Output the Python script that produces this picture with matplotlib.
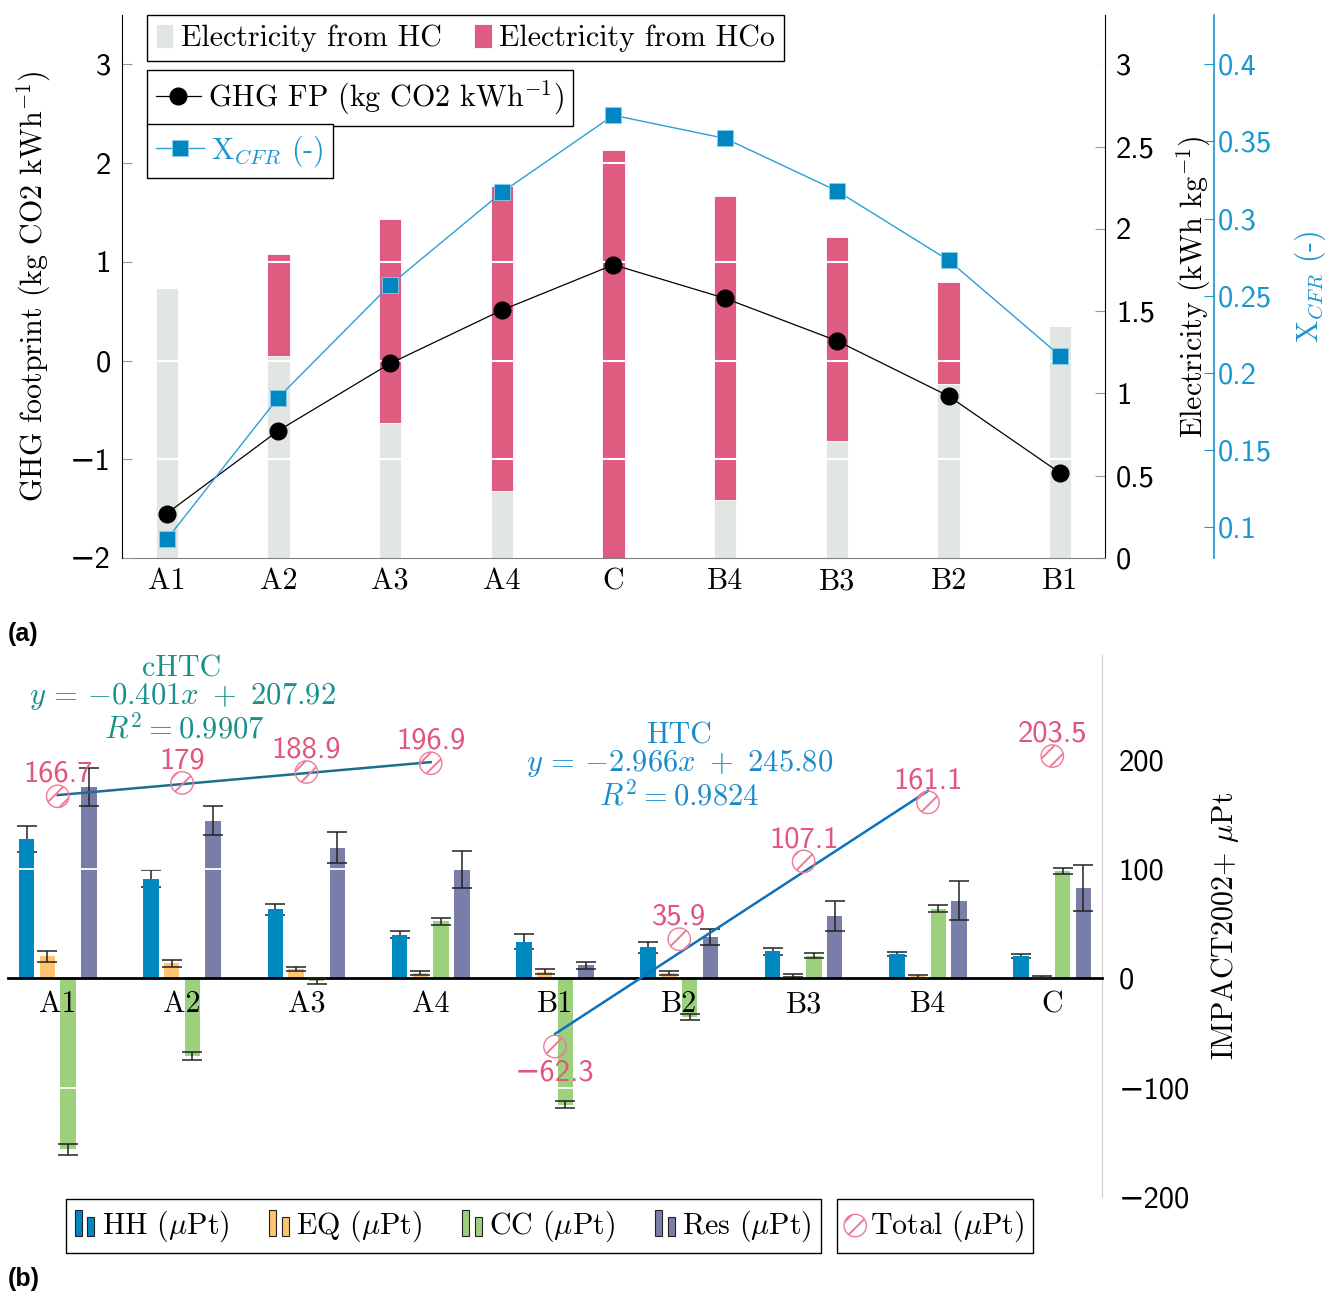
import numpy as np
import matplotlib
matplotlib.use("Agg")
import matplotlib.pyplot as plt
from matplotlib.patches import Rectangle
from matplotlib.legend_handler import HandlerBase
from matplotlib.container import BarContainer
from matplotlib.ticker import FuncFormatter

plt.rcParams['mathtext.fontset'] = 'cm'
plt.rcParams['font.family'] = ['cmr10', 'DejaVu Serif']
plt.rcParams['font.size'] = 21.6
plt.rcParams['hatch.color'] = 'red'
plt.rcParams['hatch.linewidth'] = 1.4

SANS = ['cmss10', 'DejaVu Sans']
NUM_SIZE = 22

# ---- panel (a) data
cats_a = ['A1', 'A2', 'A3', 'A4', 'C', 'B4', 'B3', 'B2', 'B1']
elec_hc = [1.64, 1.23, 0.82, 0.41, 0.0, 0.35, 0.71, 1.06, 1.41]
elec_hco = [0.0, 0.62, 1.24, 1.85, 2.48, 1.85, 1.24, 0.62, 0.0]
ghg = [-1.55, -0.71, -0.03, 0.51, 0.97, 0.63, 0.20, -0.36, -1.14]
xcfr = [0.092, 0.184, 0.257, 0.317, 0.367, 0.352, 0.318, 0.273, 0.211]

# ---- panel (b) data
cats_b = ['A1', 'A2', 'A3', 'A4', 'B1', 'B2', 'B3', 'B4', 'C']
hh = [127.4, 91.4, 63.1, 40.0, 33.6, 28.5, 24.9, 22.3, 20.4]
hh_err = [12, 8, 5, 3, 7, 5, 3, 2, 2]
eq = [20.1, 13.7, 8.9, 5.0, 6.3, 5.0, 2.7, 1.8, 1.5]
eq_err = [5, 3.2, 2, 1.5, 2.2, 1.4, 1, 1, 0.8]
cc = [-156.5, -70.8, -2.5, 52.2, -115.6, -34.9, 20.8, 64.0, 98.2]
cc_err = [5.3, 3.8, 3, 3.2, 3, 2.7, 2.2, 3, 3]
res = [175.2, 144.4, 119.7, 99.4, 12.1, 37.8, 57.0, 71.2, 82.4]
res_err = [17.4, 13, 14.5, 17, 3.2, 7.4, 13.5, 17.8, 21]
total = [166.7, 179, 188.9, 196.9, -62.3, 35.9, 107.1, 161.1, 203.5]


def num(v, pos=None):
    return ('%g' % v).replace('-', '\u2212')


class BarPair(HandlerBase):
    def create_artists(self, legend, orig, xd, yd, w, h, fontsize, trans):
        c = orig.patches[0].get_facecolor()
        bw = w * 0.36
        r1 = Rectangle((-xd, -yd), bw, h, fc=c, ec='#222222', lw=0.8, transform=trans)
        r2 = Rectangle((-xd + w - bw, -yd), bw, h * 0.75, fc=c, ec='#222222', lw=0.8, transform=trans)
        return [r1, r2]


fig = plt.figure(figsize=(13.26, 12.94), dpi=100)

# =============== (a)
ax = fig.add_axes([0.0920, 0.5688, 0.7413, 0.4196])
ax2 = ax.twinx()
ax3 = ax.twinx()
x = np.arange(len(cats_a))

b_hc = ax.bar(x, elec_hc, 0.2, color='#E1E6E3', edgecolor='white', lw=0.6)
b_hco = ax.bar(x, elec_hco, 0.2, bottom=elec_hc, color='#DD5C80', edgecolor='white', lw=0.6)
ax.set_xlim(-0.4, 8.4)
ax.set_ylim(0, 3.3)
ax.yaxis.tick_right()
ax.yaxis.set_label_position('right')
ax.set_yticks(np.arange(0, 3.01, 0.5))
ax.yaxis.set_major_formatter(FuncFormatter(num))
ax.set_xticks(x, cats_a)
ax.tick_params(axis='x', length=0, pad=7)
ax.tick_params(axis='y', direction='in', length=7, color='#999999', pad=8,
               labelfontfamily=SANS, labelsize=NUM_SIZE)
ax.set_ylabel(r'Electricity (kWh kg$^{-1}$)')
ax.yaxis.set_label_coords(1.071, 0.5)
for s in ['top', 'left']:
    ax.spines[s].set_visible(False)
ax.spines['bottom'].set_color('#808080')
ax.spines['right'].set_color('black')

ax2.set_ylim(-2, 3.5)
ax2.yaxis.tick_left()
ax2.yaxis.set_label_position('left')
ax2.set_yticks(range(-2, 4))
ax2.yaxis.set_major_formatter(FuncFormatter(num))
ax2.tick_params(axis='y', direction='in', length=7, color='#999999', pad=8,
                labelfontfamily=SANS, labelsize=NUM_SIZE)
for v in [-1, 0, 1, 2, 3]:
    ax2.axhline(v, color='white', lw=1.5, zorder=1.5)
l_ghg, = ax2.plot(x, ghg, 'o-', color='black', ms=12, lw=0.9, zorder=3)
ax2.set_ylabel(r'GHG footprint (kg CO2 kWh$^{-1}$)', labelpad=12)
for s in ['top', 'right', 'bottom']:
    ax2.spines[s].set_visible(False)

blue = '#1A96D0'
ax3.spines['right'].set_position(('axes', 1.111))
ax3.spines['right'].set_color(blue)
ax3.spines['right'].set_linewidth(1.2)
for s in ['top', 'left', 'bottom']:
    ax3.spines[s].set_visible(False)
ax3.set_ylim(0.08, 0.432)
ax3.set_yticks(np.arange(0.1, 0.401, 0.05))
ax3.yaxis.set_major_formatter(FuncFormatter(num))
ax3.tick_params(axis='y', direction='in', length=7, color=blue, labelcolor=blue, pad=3,
                labelfontfamily=SANS, labelsize=NUM_SIZE)
l_x, = ax3.plot(x, xcfr, 's-', color='#2A9FD6', mfc='#0087C1', mec='#8CCBEA', mew=0.6,
                ms=12, lw=1, zorder=3)
ax3.set_ylabel(r'X$_{CFR}$ (-)', color=blue)
ax3.yaxis.set_label_coords(1.191, 0.5)

lkw = dict(loc='upper left', borderaxespad=0, fancybox=False, edgecolor='black',
           framealpha=1, borderpad=0.3, handletextpad=0.25)
leg1 = ax3.legend([b_hc, b_hco], ['Electricity from HC', 'Electricity from HCo'],
                  bbox_to_anchor=(0.0254, 1.0), ncol=2, handlelength=0.57,
                  handleheight=0.85, columnspacing=1.1, **lkw)
ax3.add_artist(leg1)
leg2 = ax3.legend([l_ghg], [r'GHG FP (kg CO2 kWh$^{-1}$)'], bbox_to_anchor=(0.0254, 0.899),
                  handlelength=1.5, **lkw)
ax3.add_artist(leg2)
ax3.legend([l_x], [r'X$_{CFR}$ (-)'], bbox_to_anchor=(0.0254, 0.799),
           handlelength=1.6, labelcolor=blue, **lkw)

fig.text(0.006, 1 - 634 / 1294, '(a)', fontweight='bold', family='Liberation Sans',
         size=18, va='center')

# =============== (b)
bx = fig.add_axes([0.00603, 0.07496, 0.82504, 0.41886])
xb = np.arange(len(cats_b))
w = 0.125
off = 0.1667
cols = ['#0088C0', '#FFC46E', '#9DD07C', '#7A7DA8']
series = [(hh, hh_err), (eq, eq_err), (cc, cc_err), (res, res_err)]
bars = []
for i, (vals, err) in enumerate(series):
    pos = xb + (i - 1.5) * off
    bc = bx.bar(pos, vals, w, color=cols[i], zorder=1)
    bars.append(bc)
    bx.errorbar(pos, vals, yerr=err, fmt='none', ecolor='#222222', elinewidth=1.1,
                capsize=7, capthick=1.1, zorder=0.5 if i == 0 else 3)

for v in [-200, -100, 100, 200]:
    bx.axhline(v, color='white', lw=1.3, zorder=1.2)

bx.set_xlim(-0.4, 8.4)
bx.set_ylim(-200, 296)
bx.spines['bottom'].set_position(('data', 0))
bx.spines['bottom'].set_linewidth(2)
bx.spines['bottom'].set_zorder(2.5)
for s in ['top', 'left']:
    bx.spines[s].set_visible(False)
bx.spines['right'].set_color('#cccccc')
bx.yaxis.tick_right()
bx.yaxis.set_label_position('right')
bx.set_yticks([-200, -100, 0, 100, 200])
bx.yaxis.set_major_formatter(FuncFormatter(num))
bx.tick_params(axis='y', length=0, pad=12, labelfontfamily=SANS, labelsize=NUM_SIZE)
bx.set_xticks(xb, cats_b)
bx.tick_params(axis='x', length=0, pad=9)
bx.set_ylabel(r'IMPACT2002+ $\mu$Pt', labelpad=14)

tot_col = '#E2557C'
sc = bx.scatter(xb, total, s=260, marker='o', facecolors='none', edgecolors='#EE7A95',
                hatch='//', linewidths=1, zorder=5)
for xi, t in zip(xb, total):
    if t < 0:
        bx.annotate(num(t), (xi, t), xytext=(0, -9), textcoords='offset points',
                    ha='center', va='top', color=tot_col, zorder=6,
                    family=SANS, size=NUM_SIZE)
    else:
        bx.annotate(num(t), (xi, t), xytext=(0, 6), textcoords='offset points',
                    ha='center', va='bottom', color=tot_col, zorder=6,
                    family=SANS, size=NUM_SIZE)

tot = np.array(total)
for sl, col in [(slice(0, 4), '#1D6E8E'), (slice(4, 8), '#0A72BE')]:
    xs = xb[sl]
    k, b0 = np.polyfit(xs, tot[sl], 1)
    ends = xs[[0, -1]]
    bx.plot(ends, k * ends + b0, color=col, lw=1.8, zorder=4)

teal = '#16918C'
bx.text(1, 283, 'cHTC', color=teal, ha='center', va='center')
bx.text(1, 258, r'$y\, = \,{-}\mathsf{0.401}x\ +\ \mathsf{207.92}$', color=teal,
        ha='center', va='center', size=NUM_SIZE)
bx.text(1.02, 229, r'$R^{\mathsf{2}} = \mathsf{0.9907}$', color=teal,
        ha='center', va='center', size=NUM_SIZE)
htc = '#1B8CCB'
bx.text(5, 222, 'HTC', color=htc, ha='center', va='center')
bx.text(5, 197, r'$y\, = \,{-}\mathsf{2.966}x\ +\ \mathsf{245.80}$', color=htc,
        ha='center', va='center', size=NUM_SIZE)
bx.text(5, 167, r'$R^{\mathsf{2}} = \mathsf{0.9824}$', color=htc,
        ha='center', va='center', size=NUM_SIZE)

bkw = dict(loc='upper left', borderaxespad=0, fancybox=False, edgecolor='black',
           framealpha=1, borderpad=0.3)
legb = bx.legend(bars, [r'HH ($\mu$Pt)', r'EQ ($\mu$Pt)', r'CC ($\mu$Pt)', r'Res ($\mu$Pt)'],
                 bbox_to_anchor=(0.053, -0.004), ncol=4, handlelength=0.65, handleheight=0.95,
                 handletextpad=0.25, columnspacing=1.33,
                 handler_map={BarContainer: BarPair()}, **bkw)
bx.add_artist(legb)
bx.legend([sc], [r'Total ($\mu$Pt)'], bbox_to_anchor=(0.758, -0.004), scatterpoints=1,
          handlelength=0.6, handletextpad=0.2, **bkw)

fig.text(0.006, 1 - 1279 / 1294, '(b)', fontweight='bold', family='Liberation Sans',
         size=18, va='center')

fig.savefig('out.png', dpi=100)
